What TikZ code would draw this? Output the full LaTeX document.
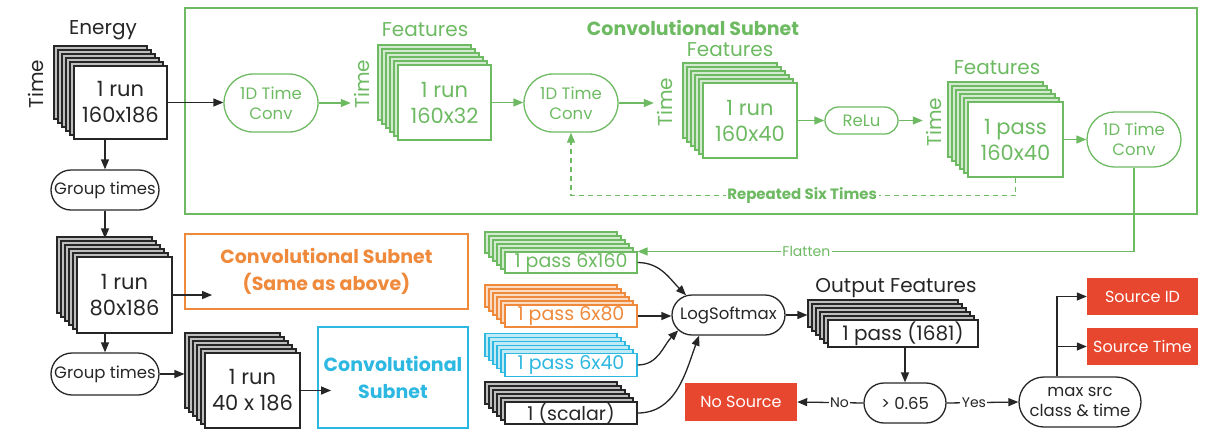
\documentclass[tikz,border=0pt]{standalone}
\usepackage{fontspec}
\setmainfont{Poppins}
\usetikzlibrary{calc,arrows.meta}
\usetikzlibrary{shapes.misc}
\definecolor{gruen}{HTML}{6DBA62}
\definecolor{orng}{HTML}{EF8A3C}
\definecolor{blau}{HTML}{2DB8E2}
\definecolor{rot}{HTML}{E8472F}
\definecolor{dunkel}{HTML}{262626}

\tikzset{
	lage/.style 2 args={preaction={draw=#1, fill=#1!30,
			transform canvas={shift={(-#2,#2)}}}},
	stapel/.style={draw=#1, fill=white, text=#1, line width=1.1pt,
		align=center, inner sep=0pt, font=\fontsize{21}{26}\selectfont,
		lage={#1}{20pt}, lage={#1}{16pt}, lage={#1}{12pt},
		lage={#1}{8pt}, lage={#1}{4pt}},
	pille/.style={draw=#1, text=#1, rounded rectangle, line width=1.3pt,
		align=center, inner sep=2pt, font=\fontsize{16.5}{20}\selectfont},
	rahmen/.style={draw=#1, line width=1.8pt, inner sep=0pt},
	titel/.style={text=#1, align=center, font=\bfseries\fontsize{19}{27}\selectfont},
	knopf/.style={fill=rot, text=white, inner sep=0pt, font=\fontsize{16}{18}\selectfont},
	pfeil/.style={->, draw=#1, line width=1.3pt},
	pfeil/.default=dunkel,
	hinweis/.style={text=#1, fill=white, inner sep=1.5pt, font=\fontsize{14}{16}\selectfont},
	hinweis/.default=dunkel
}

\begin{document}
\begin{tikzpicture}[
		x=1pt, y=-1pt,						% Pixelkoordinaten
		>={Triangle[length=10pt,width=8pt]},	% Pfeilspitzen
		text=dunkel,
		font=\fontsize{20}{25}\selectfont	% Schrift
	]
	\useasboundingbox (0,0) rectangle (1209,432);

	% Rahmen oben
	\node[rahmen=gruen, minimum width=1012pt, minimum height=206pt] (netz) at (691,111) {};
	\node[titel=gruen] (titel) at (693,28) {Convolutional Subnet};

	% Eingang
	\node (energie) at (103,30) {Energy};
	\node[rotate=90] (zeit0) at (36,84) {Time};
	\node[stapel=dunkel, minimum width=93pt, minimum height=73pt] (e1) at (120.5,102.5) {1 run\\160x186};

	% Faltungsnetz
	\node[pille=gruen, minimum width=98pt, minimum height=58pt] (k1) at (271,103) {1D Time\\Conv};
	\node[rotate=90, text=gruen] (zeit1) at (362,84) {Time};
	\node[text=gruen] (merk1) at (425,30) {Features};
	\node[stapel=gruen, minimum width=93pt, minimum height=75pt] (f1) at (444.5,102.5) {1 run\\160x32};
	\node[pille=gruen, minimum width=98pt, minimum height=58pt] (k2) at (571,103) {1D Time\\Conv};
	\node[rotate=90, text=gruen] (zeit2) at (665,102) {Time};
	\node[text=gruen] (merk2) at (730,50) {Features};
	\node[stapel=gruen, minimum width=94pt, minimum height=75pt] (f2) at (750,120.5) {1 run\\160x40};
	\node[pille=gruen, minimum width=77pt, minimum height=27pt] (relu) at (861.5,120.5) {ReLu};
	\node[rotate=90, text=gruen] (zeit3) at (934,122) {Time};
	\node[text=gruen] (merk3) at (997,68) {Features};
	\node[stapel=gruen, minimum width=95pt, minimum height=75pt] (f3) at (1015.5,139.5) {1 pass\\160x40};
	\node[pille=gruen, minimum width=98pt, minimum height=55pt] (k3) at (1134,139.5) {1D Time\\Conv};

	\draw[pfeil] (e1.east) -- (e1.east -| k1.west);
	\draw[pfeil=gruen] (k1.east) -- (k1.east -| zeit1.north);
	\draw[pfeil=gruen] (f1.east) -- (f1.east -| k2.west);
	\draw[pfeil=gruen] (k2.east) -- (k2.east -| zeit2.north);
	\draw[pfeil=gruen] (f2.east) -- (relu.west);
	\draw[pfeil=gruen] (relu.east) -- (relu.east -| zeit3.north);
	\draw[pfeil=gruen] (f3.east) -- (k3.west);
	\draw[pfeil=gruen, dash pattern=on 5pt off 4pt] (f3.south) -- ++(0,18)
		-| node[pos=0.24, hinweis=gruen, font=\bfseries\fontsize{15}{17}\selectfont]{Repeated Six Times} (k2.south);

	% Linke Spalte
	\node[pille=dunkel, minimum width=112pt, minimum height=40pt] (g1) at (105,190) {Group times};
	\node[stapel=dunkel, minimum width=95pt, minimum height=76pt] (e2) at (124.5,295) {1 run\\80x186};
	\node[pille=dunkel, minimum width=112pt, minimum height=42pt] (g2) at (105,374) {Group times};
	\node[stapel=dunkel, minimum width=95pt, minimum height=75pt] (e3) at (252.5,390.5) {1 run\\40 x 186};
	\node[rahmen=orng, titel=orng, minimum width=283pt, minimum height=75pt] (sub2) at (326.5,271.5) {Convolutional Subnet\\(Same as above)};
	\node[rahmen=blau, titel=blau, minimum width=150pt, minimum height=101pt] (sub3) at (393,377.5) {Convolutional\\Subnet};

	\draw[pfeil] (g1.north |- e1.south) -- (g1.north);
	\draw[pfeil] (g1.south) -- ($(g1.south |- e2.north)+(0,-18)$);
	\draw[pfeil] (e2.east) -- ($(e2.east -| sub2.west)+(28,0)$);
	\draw[pfeil] (g2.north |- e2.south) -- (g2.north);
	\draw[pfeil] (g2.east) -- ($(g2.east -| e3.west)+(-20,0)$);
	\draw[pfeil] (e3.east) -- ($(e3.east -| sub3.west)+(14,0)$);

	% Zusammenfuehrung
	\node[stapel=gruen, minimum width=132pt, minimum height=21pt, font=\fontsize{19}{21}\selectfont] (p1) at (571,262.5) {1 pass 6x160};
	\node[stapel=orng, minimum width=132pt, minimum height=22pt, font=\fontsize{19}{21}\selectfont] (p2) at (571,316) {1 pass 6x80};
	\node[stapel=blau, minimum width=132pt, minimum height=23pt, font=\fontsize{19}{21}\selectfont] (p3) at (571,365) {1 pass 6x40};
	\node[stapel=dunkel, minimum width=132pt, minimum height=22pt, font=\fontsize{19}{21}\selectfont] (p4) at (571,413) {1 (scalar)};
	\node[pille=dunkel, minimum width=117pt, minimum height=40pt] (lsm) at (728.5,315) {LogSoftmax};

	\draw[pfeil=gruen] (k3.south) |- node[pos=0.83, hinweis=gruen]{Flatten} (p1.north east);
	\draw[pfeil] (p1.east) to[out=0, in=135] (lsm.155);
	\draw[pfeil] (p2.east) -- (p2.east -| lsm.west);
	\draw[pfeil] (p3.east) to[out=0, in=225] (lsm.197);
	\draw[pfeil] (p4.east) to[out=0, in=250] (lsm.215);

	% Ausgabe
	\node (ausgabe) at (896,288) {Output Features};
	\node[stapel=dunkel, minimum width=150pt, minimum height=27pt, font=\fontsize{20}{22}\selectfont] (o1) at (903,333.5) {1 pass (1681)};
	\node[pille=dunkel, minimum width=86pt, minimum height=40pt] (schwelle) at (905,403) {> 0.65};
	\node[pille=dunkel, minimum width=126pt, minimum height=50pt] (maxi) at (1080,402) {max src\\class \& time};
	\node[knopf, minimum width=112pt, minimum height=38pt] (keine) at (741,402) {No Source};
	\node[knopf, minimum width=111pt, minimum height=37pt] (quelle) at (1142.5,296.5) {Source ID};
	\node[knopf, minimum width=111pt, minimum height=37pt] (qzeit) at (1142.5,346.5) {Source Time};

	\draw[pfeil] (lsm.east) -- ($(lsm.east -| o1.west)+(-20,0)$);
	\draw[pfeil] (schwelle.north |- o1.south) -- (schwelle.north);
	\draw[pfeil] (schwelle.east) -- node[pos=0.38, hinweis]{Yes} (maxi.west);
	\draw[pfeil] (schwelle.west) -- node[pos=0.36, hinweis]{No} (keine.east);
	\draw[pfeil] ($(maxi.north)+(-23,0)$) |- (quelle.west);
	\draw[pfeil] ($(maxi.north)+(-23,0)$) |- (qzeit.west);

\end{tikzpicture}
\end{document}
